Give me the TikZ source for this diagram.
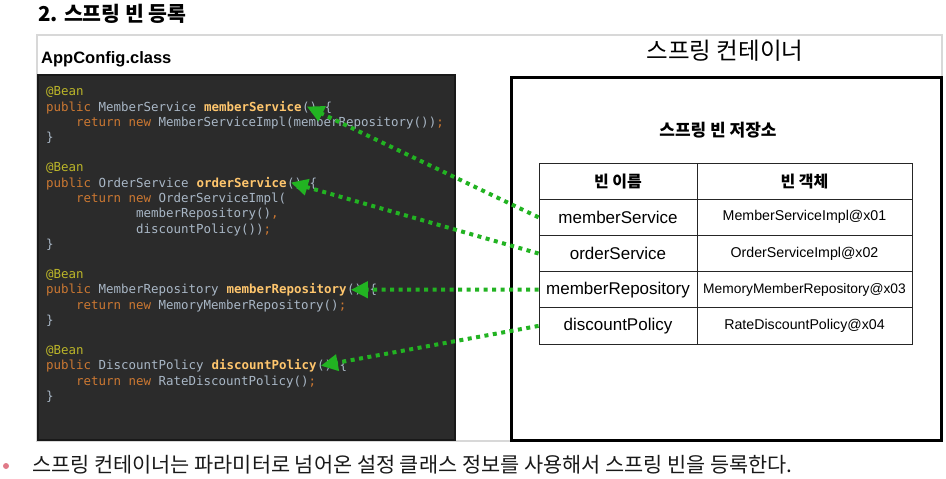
\documentclass[tikz,border=0pt]{standalone}
\usepackage{fontspec}
\setmainfont{Liberation Sans}
\newfontfamily\krfont{Noto Sans CJK KR}
\newfontfamily\codefnt{DejaVu Sans Mono}
\usetikzlibrary{arrows.meta}
\definecolor{codebg}{HTML}{2B2B2B}
\definecolor{ann}{HTML}{BBB529}
\definecolor{kw}{HTML}{CC7832}
\definecolor{idt}{HTML}{A9B7C6}
\definecolor{mth}{HTML}{FFC66D}
\definecolor{arrgreen}{HTML}{22B322}
\definecolor{framegray}{HTML}{D8D8D8}
\definecolor{bulletpink}{HTML}{E07A88}
\tikzset{
  code/.style={anchor=base west, inner sep=0pt, font=\codefnt\fontsize{12.46}{15}\selectfont, text=idt},
  mname/.style={code, text=mth, font=\codefnt\fontsize{12.46}{15}\selectfont\bfseries},
  cell/.style={draw=black!85, line width=0.9pt, inner sep=0pt, minimum height=36.2pt},
  namecell/.style={cell, minimum width=158pt, font=\fontsize{17}{20}\selectfont},
  objcell/.style={cell, minimum width=215pt, font=\fontsize{14.2}{17}\selectfont},
  headcell/.style={cell, font=\krfont\bfseries\fontsize{16}{19}\selectfont},
  beanarrow/.style={draw=arrgreen, line width=4pt, dash pattern=on 4pt off 4.5pt, -{Triangle[length=17pt,width=16pt]}}
}
\begin{document}
\begin{tikzpicture}[x=1pt,y=-1pt]
\useasboundingbox (0,0) rectangle (946,479);
% heading
\node[anchor=west, inner sep=0pt, font=\krfont\bfseries\fontsize{20.5}{24}\selectfont] (heading) at (38,14) {2. 스프링 빈 등록};
% outer frame
\draw[framegray, line width=2pt] (37,35) rectangle (942,441);
\node[anchor=west, inner sep=0pt, font=\bfseries\fontsize{16.5}{20}\selectfont] (appcfg) at (41,59) {AppConfig.class};
% code box
\draw[draw=black!90, fill=codebg, line width=2pt] (38,75) rectangle (455,440);
% code lines
\node[code, text=ann] (c1) at (46,95.5) {@Bean};
\node[code] (c2) at (46,111.5) {\textcolor{kw}{public} MemberService\hphantom{x}};
\node[mname] (ms) at (c2.base east) {memberService};
\node[code] (c2b) at (ms.base east) {() \{};
\node[code] (c3) at (76,126.5) {\textcolor{kw}{return new} MemberServiceImpl(memberRepository())\textcolor{kw}{;}};
\node[code] (c4) at (46,141.5) {\}};
\node[code, text=ann] (c6) at (46,171.5) {@Bean};
\node[code] (c7) at (46,187.5) {\textcolor{kw}{public} OrderService\hphantom{x}};
\node[mname] (os) at (c7.base east) {orderService};
\node[code] (c7b) at (os.base east) {() \{};
\node[code] (c8) at (76,202.5) {\textcolor{kw}{return new} OrderServiceImpl(};
\node[code] (c9) at (136,217.5) {memberRepository()\textcolor{kw}{,}};
\node[code] (c10) at (136,233.5) {discountPolicy())\textcolor{kw}{;}};
\node[code] (c11) at (46,248.5) {\}};
\node[code, text=ann] (c13) at (46,278.5) {@Bean};
\node[code] (c14) at (46,293.5) {\textcolor{kw}{public} MemberRepository\hphantom{x}};
\node[mname] (mr) at (c14.base east) {memberRepository};
\node[code] (c14b) at (mr.base east) {() \{};
\node[code] (c15) at (76,309.5) {\textcolor{kw}{return new} MemoryMemberRepository()\textcolor{kw}{;}};
\node[code] (c16) at (46,324.5) {\}};
\node[code, text=ann] (c18) at (46,354.5) {@Bean};
\node[code] (c19) at (46,369.5) {\textcolor{kw}{public} DiscountPolicy\hphantom{x}};
\node[mname] (dp) at (c19.base east) {discountPolicy};
\node[code] (c19b) at (dp.base east) {() \{};
\node[code] (c20) at (76,385.5) {\textcolor{kw}{return new} RateDiscountPolicy()\textcolor{kw}{;}};
\node[code] (c21) at (46,400.5) {\}};
% container
\node[inner sep=0pt, font=\krfont\fontsize{23.5}{27}\selectfont] (ctitle) at (725,51) {스프링 컨테이너};
\draw[black, line width=3pt] (511,77) rectangle (941,440);
\node[inner sep=0pt, font=\krfont\bfseries\fontsize{17}{20}\selectfont] (store) at (718,130) {스프링 빈 저장소};
% table
\node[headcell, minimum width=158pt] (h1) at (618,181.1) {빈 이름};
\node[headcell, minimum width=215pt] (h2) at (804.5,181.1) {빈 객체};
\node[namecell] (r1n) at (618,217.3) {memberService};
\node[objcell] (r1o) at (804.5,217.3) {MemberServiceImpl@x01};
\node[namecell] (r2n) at (618,253.5) {orderService};
\node[objcell] (r2o) at (804.5,253.5) {OrderServiceImpl@x02};
\node[namecell] (r3n) at (618,289.7) {memberRepository};
\node[objcell, font=\fontsize{13.8}{17}\selectfont] (r3o) at (804.5,289.7) {MemoryMemberRepository@x03};
\node[namecell] (r4n) at (618,325.9) {discountPolicy};
\node[objcell] (r4o) at (804.5,325.9) {RateDiscountPolicy@x04};
% arrows
\draw[beanarrow] (r1n.west) -- ([xshift=5pt]ms.east);
\draw[beanarrow] (r2n.west) -- ([xshift=4pt]os.east);
\draw[beanarrow] (r3n.west) -- ([xshift=4pt]mr.east);
\draw[beanarrow] (r4n.west) -- ([xshift=4pt]dp.east);
% bullet
\fill[bulletpink] (6,466) circle (3pt);
\node[anchor=west, inner sep=0pt, font=\krfont\fontsize{20.8}{24}\selectfont, text=black!90] (note) at (32,465) {스프링 컨테이너는 파라미터로 넘어온 설정 클래스 정보를 사용해서 스프링 빈을 등록한다.};
\end{tikzpicture}
\end{document}
